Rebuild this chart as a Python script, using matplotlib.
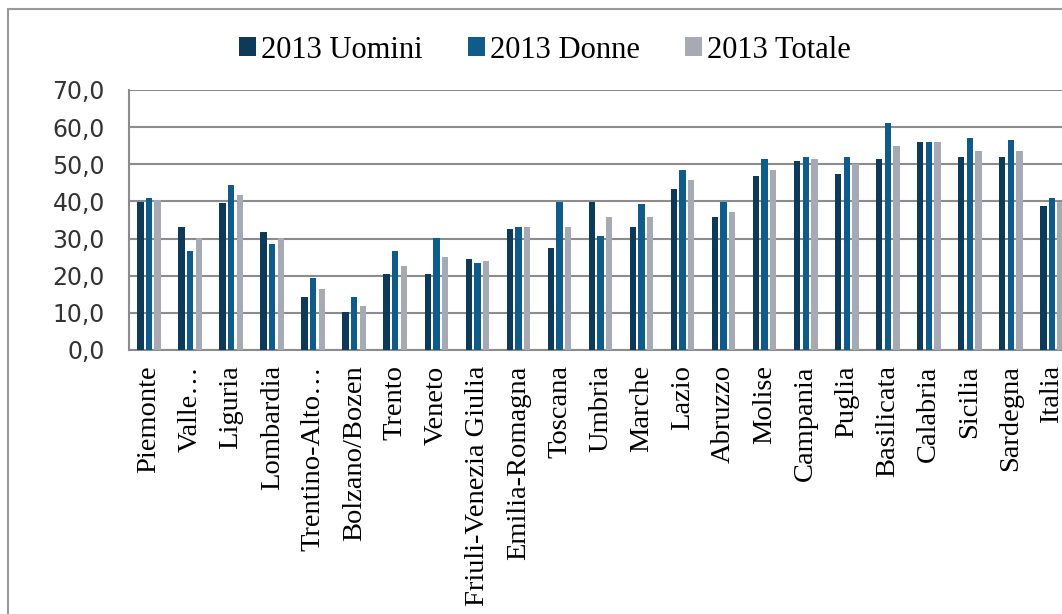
import numpy as np
import matplotlib
matplotlib.use("Agg")
import matplotlib.pyplot as plt
from matplotlib.patches import Rectangle

# dati 2013 per regione
regioni = ['Piemonte', 'Valle…', 'Liguria', 'Lombardia', 'Trentino-Alto…',
           'Bolzano/Bozen', 'Trento', 'Veneto', 'Friuli-Venezia Giulia',
           'Emilia-Romagna', 'Toscana', 'Umbria', 'Marche', 'Lazio', 'Abruzzo',
           'Molise', 'Campania', 'Puglia', 'Basilicata', 'Calabria', 'Sicilia',
           'Sardegna', 'Italia']
uomini = [39.9, 33.0, 39.5, 31.9, 14.2, 10.1, 20.5, 20.5, 24.4, 32.5, 27.4, 39.9,
          33.0, 43.4, 35.9, 46.8, 50.8, 47.3, 51.3, 55.9, 51.9, 51.9, 38.8]
donne = [40.8, 26.7, 44.4, 28.5, 19.4, 14.2, 26.7, 30.2, 23.3, 33.0, 39.9, 30.8,
         39.4, 48.5, 39.9, 51.3, 51.9, 51.9, 61.0, 55.9, 57.0, 56.5, 41.0]
totale = [40.3, 30.2, 41.6, 30.2, 16.4, 11.8, 22.7, 25.0, 23.9, 33.0, 33.0, 35.9,
          35.9, 45.7, 37.1, 48.5, 51.3, 50.1, 54.8, 55.9, 53.6, 53.6, 39.8]
serie = ['2013 Uomini', '2013 Donne', '2013 Totale']
colori = ['#0E3A5A', '#0F5C8A', '#A6AAB4']
yticks = [0, 10, 20, 30, 40, 50, 60, 70]

W, H = 1062, 614
fig = plt.figure(figsize=(W / 100, H / 100), dpi=100)
ax = fig.add_axes([128.5 / W, 264 / H, 944 / W, 260 / H])

x = np.arange(len(regioni))
passo = 0.21
for i, (vals, nome, c) in enumerate(zip([uomini, donne, totale], serie, colori)):
    ax.bar(x + (i - 1) * passo, vals, width=0.155, color=c, label=nome, zorder=3)

ax.set_xlim(-0.5, len(regioni) - 0.5)
ax.set_ylim(0, 70)
ax.set_yticks(yticks)
ax.set_yticklabels([f'{v:.1f}'.replace('.', ',') for v in yticks],
                   family='DejaVu Sans', fontsize=17, color='#333333')
ax.tick_params(axis='y', length=0, pad=17)
ax.set_xticks(x)
ax.set_xticklabels(regioni, rotation=90, family='Liberation Serif',
                   fontsize=20.5, va='top', ha='center')
ax.tick_params(axis='x', length=0, pad=11)

ax.grid(axis='y', color='#8C8C8C', lw=1.5, zorder=0)
for s in ['top', 'right']:
    ax.spines[s].set_visible(False)
for s in ['left', 'bottom']:
    ax.spines[s].set_color('#8C8C8C')
    ax.spines[s].set_linewidth(1.5)

leg = fig.legend(loc='center', bbox_to_anchor=(545 / W, 1 - 50 / H), ncol=3,
                 frameon=False, prop={'family': 'Liberation Serif', 'size': 22},
                 handlelength=0.55, handleheight=0.55, handletextpad=0.15,
                 columnspacing=1.5)

# cornice esterna del grafico
fig.patches.append(Rectangle((8 / W, -0.1), 1.2, (H - 9) / H + 0.1, fill=False,
                             edgecolor='#999999', lw=1.5,
                             transform=fig.transFigure, figure=fig))

fig.savefig('out.png', dpi=100)
